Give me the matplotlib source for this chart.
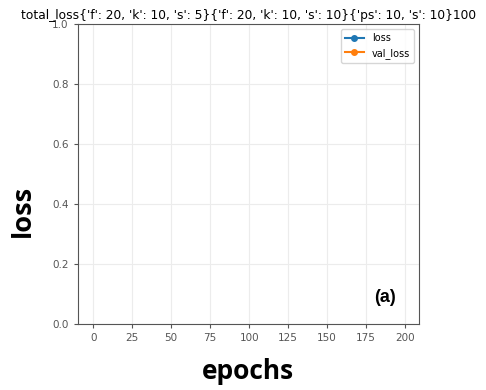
import numpy as np
import matplotlib
matplotlib.use("Agg")
import matplotlib.pyplot as plt

# training history: 200 epochs, values never recorded (all NaN)
epochs = list(range(200))
loss = [np.nan] * 200
val_loss = [np.nan] * 200
title = "total_loss{'f': 20, 'k': 10, 's': 5}{'f': 20, 'k': 10, 's': 10}{'ps': 10, 's': 10}100"

fig = plt.figure(figsize=(4.86, 3.9), dpi=100)
ax = fig.add_axes([0.160, 0.169, 0.702, 0.769])

ax.plot(epochs, loss, color="#1f77b4", marker="o", ms=4, label="loss")
ax.plot(epochs, val_loss, color="#ff7f0e", marker="o", ms=4, label="val_loss")

ax.set_xlim(-9.95, 208.95)
ax.set_ylim(0, 1)
ax.set_xticks(np.arange(0, 201, 25))
ax.set_yticks(np.arange(0, 1.01, 0.2))
ax.grid(color="#ececec", lw=0.8)
ax.tick_params(labelsize=7.5, colors="#555555", length=3)
for s in ax.spines.values():
    s.set_color("#555555")

ax.set_title(title, fontsize=8.8, pad=4)
ax.legend(loc="upper right", fontsize=7)

ax.text(0.90, 0.09, "(a)", transform=ax.transAxes, fontsize=13,
        fontweight="bold", family="Liberation Sans", ha="center", va="center")
fig.text(0.047, 0.46, "loss", rotation=90, fontsize=19.5, fontweight="bold",
         family="Open Sans", ha="center", va="center")
fig.text(0.51, 0.047, "epochs", fontsize=19, fontweight="bold",
         family="Open Sans", ha="center", va="center")

fig.savefig("out.png", dpi=100)
